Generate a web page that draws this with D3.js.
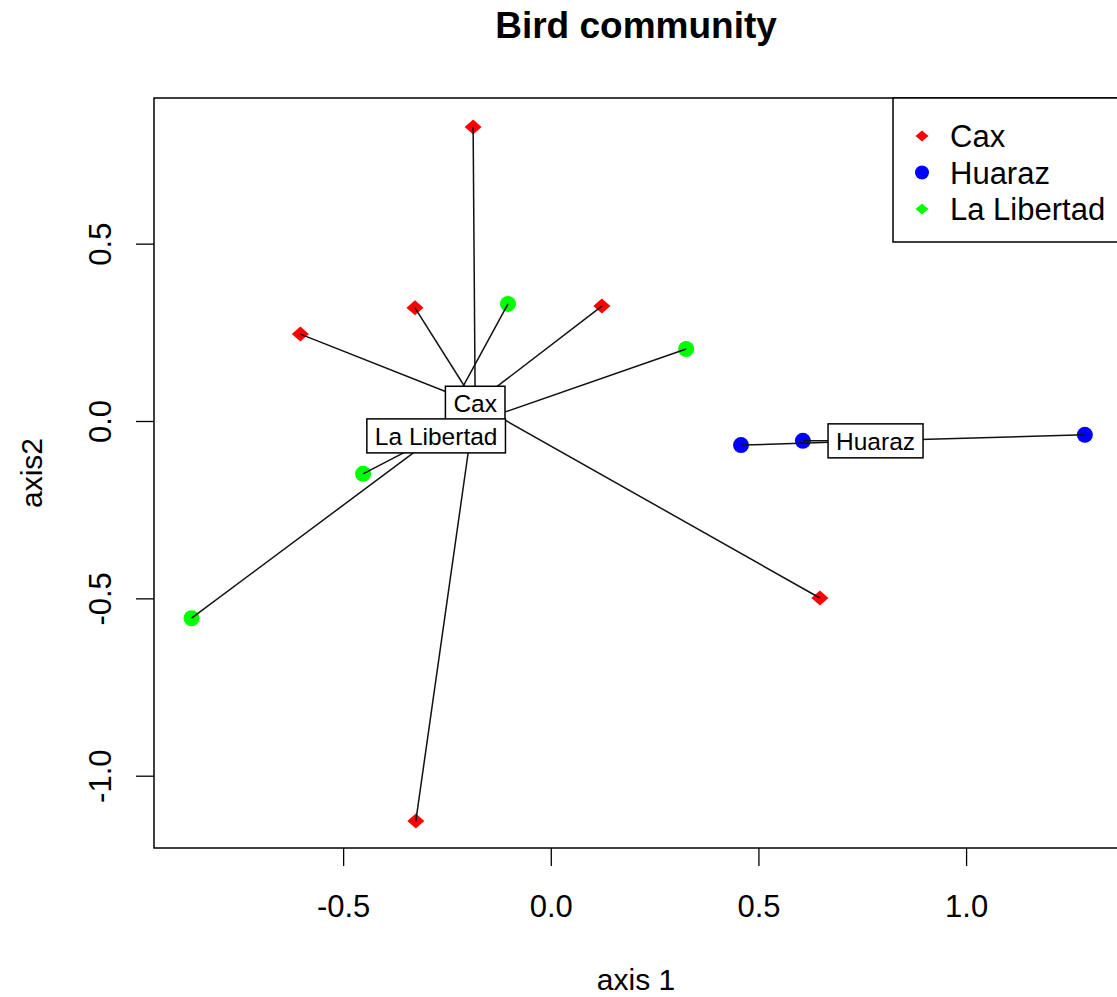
<!DOCTYPE html>
<html>
<head>
<meta charset="utf-8">
<script src="https://cdn.jsdelivr.net/npm/d3@7"></script>
<style>
    body { margin: 0; background: #fff; }
    svg { display: block; font-family: "Liberation Sans", Arial, sans-serif; }
</style>
</head>
<body>
<div id="chart"></div>
<script>
// sites per region, ordination scores (axis 1, axis 2)
var groups = ['Cax', 'Huaraz', 'La Libertad'];
var groupColors = ['#ff0000', '#0000ff', '#00ff00'];
var plotShapes = ['diamond', 'circle', 'circle'];
var legendShapes = ['diamond', 'circle', 'diamond'];

var caxPoints = [[-0.187, 0.829], [-0.327, 0.319], [-0.603, 0.245], [0.123, 0.324], [0.648, -0.499], [-0.325, -1.128]];
var huarazPoints = [[0.458, -0.068], [0.607, -0.056], [1.286, -0.039]];
var libertadPoints = [[0.326, 0.203], [-0.103, 0.330], [-0.452, -0.149], [-0.865, -0.556]];

// spider centres (where the group labels sit)
var centers = [[-0.182, 0.050], [0.782, -0.056], [-0.276, -0.042]];

var xTicks = [-0.5, 0.0, 0.5, 1.0];
var yTicks = [-1.0, -0.5, 0.0, 0.5];

var width = 1117, height = 997;
var margin = {left: 154, top: 98, right: 1118, bottom: 848};

var svg = d3.select('#chart').append('svg')
    .attr('width', width)
    .attr('height', height);

var x = d3.scaleLinear().domain([-0.9554, 1.3658]).range([margin.left, margin.right]);
var y = d3.scaleLinear().domain([-1.2038, 0.9106]).range([margin.bottom, margin.top]);

var allGroups = [caxPoints, huarazPoints, libertadPoints].map(function (pts, i) {
    return {name: groups[i], color: groupColors[i], shape: plotShapes[i], points: pts, center: centers[i]};
});

function diamondPath(cx, cy, w, h) {
    return 'M' + cx + ',' + (cy - h) + 'L' + (cx + w) + ',' + cy + 'L' + cx + ',' + (cy + h) + 'L' + (cx - w) + ',' + cy + 'Z';
}

// title + axis titles
svg.append('text')
    .attr('x', (margin.left + margin.right) / 2)
    .attr('y', 38)
    .attr('text-anchor', 'middle')
    .style('font-size', '37px')
    .style('font-weight', 'bold')
    .text('Bird community');

svg.append('text')
    .attr('x', (margin.left + margin.right) / 2)
    .attr('y', 990)
    .attr('text-anchor', 'middle')
    .style('font-size', '30px')
    .text('axis 1');

svg.append('text')
    .attr('transform', 'translate(42,' + ((margin.top + margin.bottom) / 2) + ') rotate(-90)')
    .attr('text-anchor', 'middle')
    .style('font-size', '30px')
    .text('axis2');

// axes
var xAxis = svg.append('g')
    .attr('transform', 'translate(0,' + margin.bottom + ')')
    .call(d3.axisBottom(x).tickValues(xTicks).tickSize(18).tickPadding(29)
        .tickFormat(function (d) { return d.toFixed(1); }));

var yAxis = svg.append('g')
    .attr('transform', 'translate(' + margin.left + ',0)')
    .call(d3.axisLeft(y).tickValues(yTicks).tickSize(18)
        .tickFormat(function (d) { return d.toFixed(1); }));

[xAxis, yAxis].forEach(function (ax) {
    ax.select('.domain').remove();
    ax.selectAll('line').attr('stroke', '#000').attr('stroke-width', 1.3);
    ax.selectAll('text')
        .attr('fill', '#000')
        .style('font-family', '"Liberation Sans", Arial, sans-serif')
        .style('font-size', '31px');
});

yAxis.selectAll('text')
    .attr('x', null)
    .attr('dy', null)
    .attr('text-anchor', 'middle')
    .attr('transform', 'translate(-43,0) rotate(-90)');

// points
var pointG = svg.append('g');
allGroups.forEach(function (g) {
    if (g.shape === 'circle') {
        pointG.selectAll(null)
            .data(g.points)
            .enter().append('circle')
            .attr('cx', function (d) { return x(d[0]); })
            .attr('cy', function (d) { return y(d[1]); })
            .attr('r', 8)
            .style('fill', g.color);
    } else {
        pointG.selectAll(null)
            .data(g.points)
            .enter().append('path')
            .attr('d', function (d) { return diamondPath(x(d[0]), y(d[1]), 8.5, 7.5); })
            .style('fill', g.color);
    }
});

// spider lines
var spiderG = svg.append('g');
allGroups.forEach(function (g) {
    spiderG.selectAll(null)
        .data(g.points)
        .enter().append('line')
        .attr('x1', x(g.center[0]))
        .attr('y1', y(g.center[1]))
        .attr('x2', function (d) { return x(d[0]); })
        .attr('y2', function (d) { return y(d[1]); })
        .style('stroke', '#111')
        .style('stroke-width', 1.5);
});

// group labels in boxes
var labelG = svg.append('g');
allGroups.forEach(function (g) {
    var cx = x(g.center[0]), cy = y(g.center[1]);
    var lab = labelG.append('g');
    var rect = lab.append('rect');
    var txt = lab.append('text')
        .attr('x', cx)
        .attr('y', cy)
        .attr('dy', '0.36em')
        .attr('text-anchor', 'middle')
        .style('font-size', '24.5px')
        .text(g.name);
    var w = txt.node().getComputedTextLength() + 16;
    rect.attr('x', cx - w / 2)
        .attr('y', cy - 17)
        .attr('width', w)
        .attr('height', 34)
        .style('fill', '#fff')
        .style('stroke', '#000')
        .style('stroke-width', 1.5);
});

// plot frame
svg.append('rect')
    .attr('x', margin.left)
    .attr('y', margin.top)
    .attr('width', margin.right - margin.left)
    .attr('height', margin.bottom - margin.top)
    .style('fill', 'none')
    .style('stroke', '#000')
    .style('stroke-width', 1.5);

// legend
var legend = svg.append('g');
legend.append('rect')
    .attr('x', 893)
    .attr('y', margin.top)
    .attr('width', margin.right - 893)
    .attr('height', 144)
    .style('fill', '#fff')
    .style('stroke', '#000')
    .style('stroke-width', 1.5);

var legendRows = [136, 172.5, 209];
groups.forEach(function (name, i) {
    var ly = legendRows[i];
    if (legendShapes[i] === 'circle') {
        legend.append('circle')
            .attr('cx', 922)
            .attr('cy', ly)
            .attr('r', 7)
            .style('fill', groupColors[i]);
    } else {
        legend.append('path')
            .attr('d', diamondPath(922, ly, 6.5, 5.5))
            .style('fill', groupColors[i]);
    }
    legend.append('text')
        .attr('x', 950)
        .attr('y', ly)
        .attr('dy', '0.36em')
        .style('font-size', '31px')
        .text(name);
});
</script>
</body>
</html>
